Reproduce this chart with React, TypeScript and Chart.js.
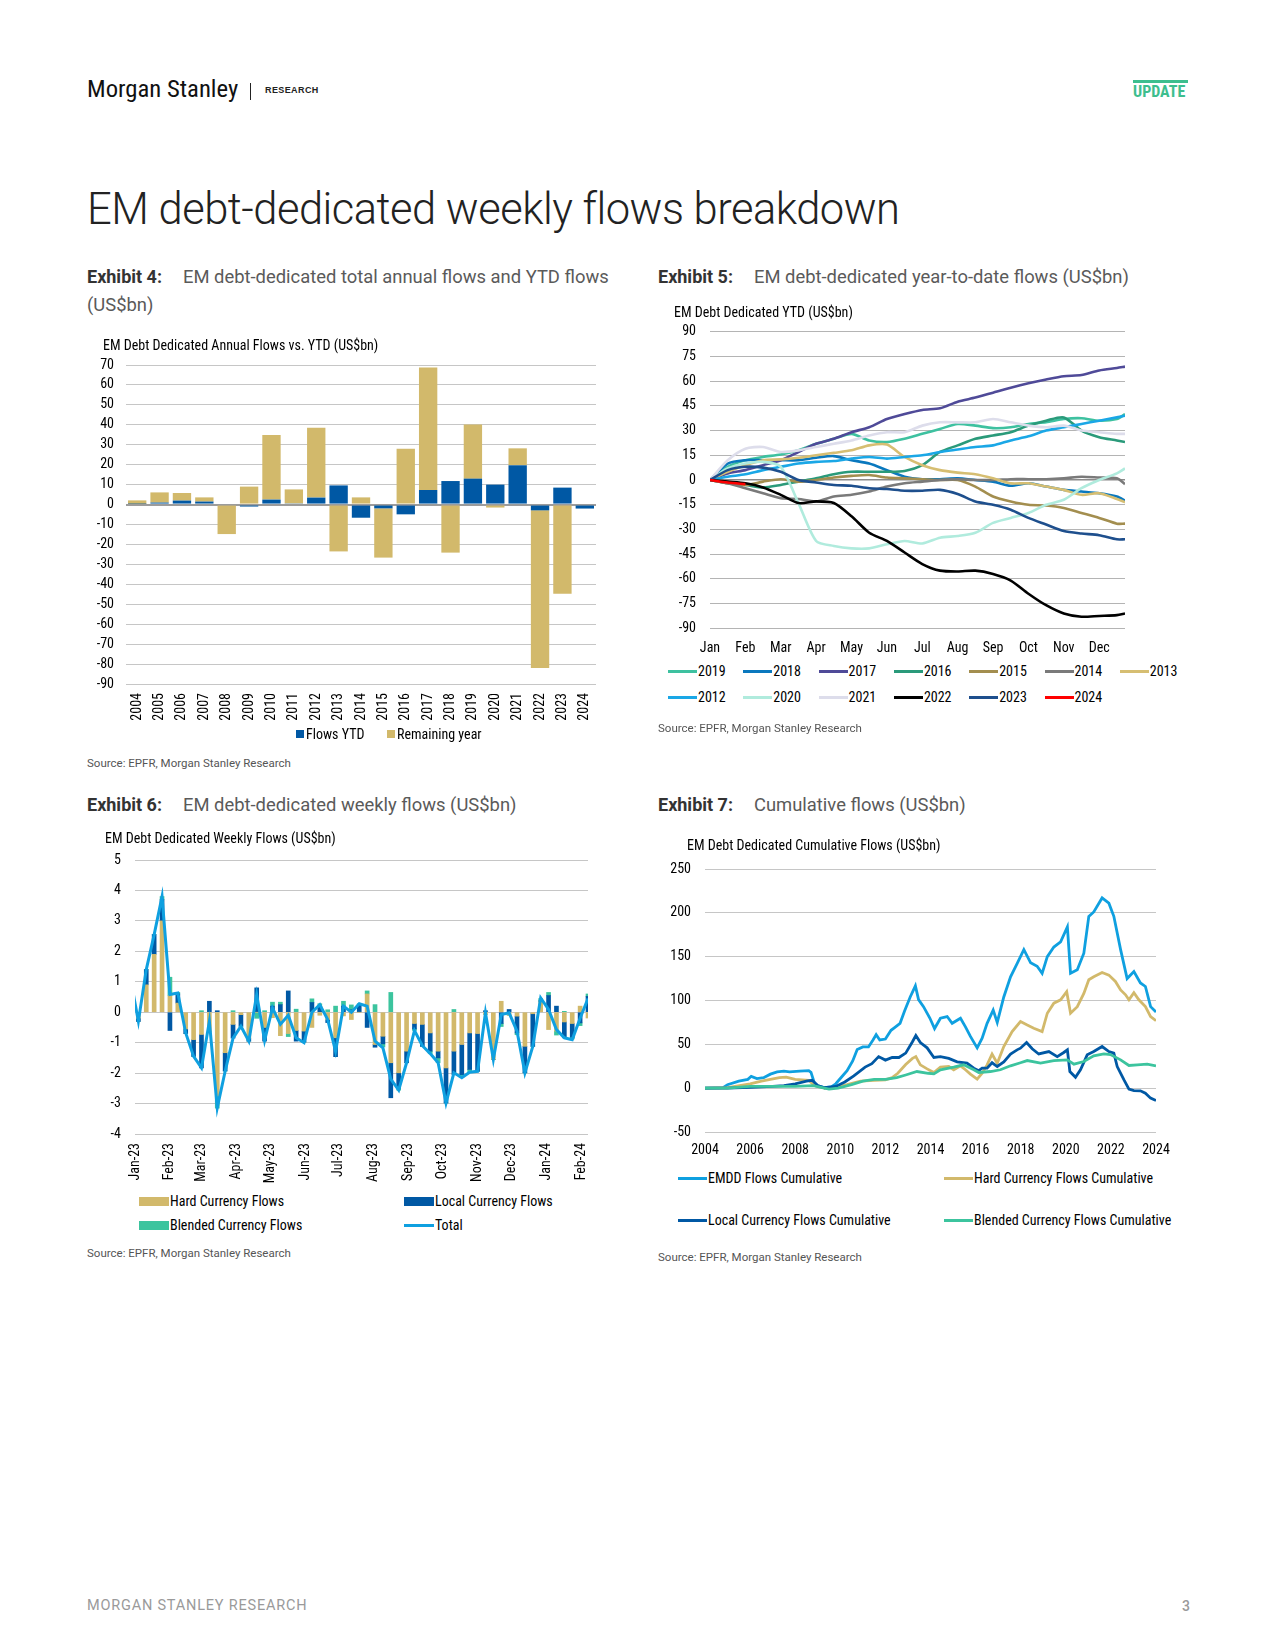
import React, { useEffect, useRef } from "react";
import { Chart, registerables } from "chart.js";
Chart.register(...registerables);

const NARROW = '"Liberation Sans Narrow", "Arial Narrow", "Roboto Condensed", Roboto, sans-serif';
const SANS = 'Roboto, "Liberation Sans", sans-serif';

const GOLD = "#D2B96B";
const BLUE = "#0058A4";
const TEAL = "#3CC49E";
const SKY = "#0FA0E0";
const GRID = "#C6C6C6";
const ZERO = "#9C9C9C";

// ---------------- Exhibit 4 ----------------
const annualYears = ["2004", "2005", "2006", "2007", "2008", "2009", "2010", "2011", "2012", "2013", "2014", "2015", "2016", "2017", "2018", "2019", "2020", "2021", "2022", "2023", "2024"];
const flowsYTD = [0.3, 1, 2, 1.5, 0, -1, 2.5, 0.6, 3.5, 9.6, -6.6, -1.9, -4.9, 7.3, 11.8, 13, 10, 19.7, -2.9, 8.5, -2];
const remainingYear = [1.8, 5.1, 3.8, 2.1, -14.8, 9, 32.4, 7, 35, -23.5, 3.6, -24.7, 28, 61.5, -24.1, 27.1, -1.5, 8.5, -79.1, -44.7, 0];
const annualTicks = { min: -90, max: 70, step: 10 };

// ---------------- Exhibit 5 ----------------
const ytdMonthLabels = ["Jan", "Feb", "Mar", "Apr", "May", "Jun", "Jul", "Aug", "Sep", "Oct", "Nov", "Dec"];
const ytdMonthTicks = [0, 1, 2, 3, 4, 5, 6, 7, 8, 9, 10, 11];
const ytdX = [0, 0.5, 1, 1.5, 2, 2.5, 3, 3.5, 4, 4.5, 5, 5.5, 6, 6.5, 7, 7.5, 8, 8.5, 9, 9.5, 10, 10.5, 11, 11.5, 11.73];
const ytdNames = ["2019", "2018", "2017", "2016", "2015", "2014", "2013", "2012", "2020", "2021", "2022", "2023", "2024"];
const ytdColors = ["#3EC1A0", "#0A78BE", "#4F4A98", "#2A9A7A", "#A38E4F", "#7A7A7A", "#D6BE72", "#1AA7E6", "#B0EBDD", "#DDDDEB", "#000000", "#1E4F8D", "#FF0000"];
const ytd2019 = [0, 8, 12, 14, 15.5, 18, 22, 25, 28, 24, 23, 25, 28, 31, 34, 33, 31.5, 32, 34, 35, 37, 37.5, 36, 37, 40];
const ytd2018 = [0, 10, 12, 12, 12, 12, 13.5, 14.5, 12, 10, 6, 2, 0.5, 0.5, 1, 0, -1, -3.5, -2, -4, -6, -7, -8, -10, -12.5];
const ytd2017 = [0, 4, 6, 9, 12, 17, 22, 25, 29, 32, 37, 40, 42.5, 43.5, 47.5, 50, 53, 56, 58.7, 61, 63, 63.7, 66.5, 68, 68.8];
const ytd2016 = [0, -2, -3, -4.5, -3, -1, 1, 3.5, 5, 5, 5, 5.5, 9, 17, 21, 25, 27, 29, 33, 36, 38, 30, 26, 24, 23];
const ytd2015 = [0, -2, -3, -1, 0.5, -1, 0, 1.5, 2.5, 3, 1.5, 1, 0.5, 0, 0, -4, -10, -13, -15, -15.5, -17, -20, -23, -26.5, -26.5];
const ytd2014 = [0, -2, -5, -8, -11, -11.5, -13, -10, -9, -7, -4, -2, -1, 0, 0.5, 0, 0, 0.5, 0.5, 0.5, 1, 2, 1.5, 1, -2.5];
const ytd2013 = [0, 5, 9, 12, 12.5, 13.5, 15, 16.5, 18, 21, 21.5, 14, 9, 6, 4.5, 3.5, 1, -2, -2, -4, -6, -9, -8, -11.5, -13.5];
const ytd2012 = [0, 2, 3.5, 6, 8, 10, 11, 11.5, 13, 14, 13, 14, 15, 17, 18.5, 20, 21, 24, 26.5, 30, 32, 34, 36, 38, 39];
const ytd2020 = [0, 7, 10, 11, 8, -14, -37, -40, -41.5, -41.5, -39, -37, -38.5, -35, -34, -32, -26, -23, -20, -15, -12, -5, 0, 4, 7];
const ytd2021 = [0, 12, 19, 20, 17, 18, 20, 22, 24, 27, 29, 29, 33, 35, 35, 35, 37, 35, 33, 32, 33, 30, 29, 28, 28];
const ytd2022 = [0, -1, -2, -4.5, -9, -14, -13, -14, -22, -32, -37, -44, -51, -55, -55.5, -55, -57, -61, -69, -76, -81, -83, -82.5, -82, -81];
const ytd2023 = [0, 6, 8, 7.5, 5, 0, -1.5, -3, -3.5, -5, -5.5, -6.5, -6.5, -6, -8.5, -13, -15, -18, -23, -27, -31, -32.5, -33.5, -36, -36];
const ytd2024 = [0, -1.5, -2.5];
const ytdSeries = [ytd2019, ytd2018, ytd2017, ytd2016, ytd2015, ytd2014, ytd2013, ytd2012, ytd2020, ytd2021, ytd2022, ytd2023, ytd2024];

// ---------------- Exhibit 6 ----------------
// weekly observations, first week ending 2022-12-28
const weekFirstDate = "2022-12-28";
const axisStartDate = "2023-01-01";
const weeklyHard = [null, -0.2, 0.9, 1.9, 3.0, 0.55, 0.3, -0.55, -0.9, -0.73, -0.65, -2.75, -1.33, -0.4, -0.08, -0.85, 0.0, -0.5, -0.18, -0.77, -0.7, -0.6, -0.62, -0.5, -0.1, -0.24, -0.84, -0.12, -0.24, 0.0, 0.6, -1.06, -0.79, -1.66, -1.99, -1.28, -0.37, -0.4, -0.68, -1.28, -1.83, -1.28, -1.06, -0.68, -0.7, -0.07, -1.55, 0.36, -0.1, -0.13, -1.12, -0.05, 0.35, -0.57, -0.62, -0.32, -0.37, 0.2, -0.19];
const weeklyLocal = [null, -0.1, 0.5, 0.65, 0.7, -0.6, 0.3, -0.15, -0.55, -1.1, 0.36, 0.05, -0.6, -0.45, -0.38, -0.1, 0.8, -0.45, 0.2, 0.25, 0.7, -0.35, -0.36, 0.32, 0.18, -0.1, -0.62, 0.2, 0.08, 0.25, -0.5, -0.09, -0.25, -1.15, -0.5, -0.38, -0.18, -0.72, -0.6, -0.22, -1.15, -0.77, -0.99, -1.2, -1.24, 0.05, 0.0, -0.37, 0.09, -0.55, -0.87, -1.07, 0.02, 0.55, 0.2, -0.52, -0.45, -0.35, 0.52];
const weeklyBlended = [null, 0, 0, 0, 0.1, 0.6, 0.05, 0, 0, 0.05, 0, -0.4, 0, 0.05, 0, 0, -0.2, 0.05, 0.13, 0.08, -0.1, 0.1, 0, 0.12, 0.1, 0.08, 0.2, 0.16, 0.16, 0.03, 0.1, 0.25, -0.1, 0.65, -0.07, 0, -0.05, 0, -0.08, -0.16, 0, 0.09, -0.1, -0.1, 0, 0, 0, -0.1, 0, -0.06, 0, 0, 0.08, 0.1, -0.13, 0.03, -0.06, -0.09, 0.08];
const weeklyTotal = [1.1, -0.3, 1.4, 2.55, 3.8, 0.58, 0.63, -0.68, -1.45, -1.83, -0.3, -3.14, -1.94, -0.85, -0.46, -0.95, 0.58, -0.93, 0.14, -0.4, -0.1, -0.84, -1.0, 0.0, 0.25, -0.24, -1.28, 0.2, 0.0, 0.28, 0.2, -0.95, -1.17, -2.2, -2.56, -1.66, -0.6, -1.1, -1.36, -1.66, -2.98, -1.99, -2.15, -1.97, -1.94, -0.02, -1.55, -0.08, -0.02, -0.62, -1.99, -1.12, 0.47, 0.09, -0.57, -0.84, -0.9, -0.2, 0.45];
const weeklyMonthLabels = ["Jan-23", "Feb-23", "Mar-23", "Apr-23", "May-23", "Jun-23", "Jul-23", "Aug-23", "Sep-23", "Oct-23", "Nov-23", "Dec-23", "Jan-24", "Feb-24"];
const weeklyMonthStarts = ["2023-01-01", "2023-02-01", "2023-03-01", "2023-04-01", "2023-05-01", "2023-06-01", "2023-07-01", "2023-08-01", "2023-09-01", "2023-10-01", "2023-11-01", "2023-12-01", "2024-01-01", "2024-02-01"];
const weeklyAxisEnd = "2024-02-07";
const weeklyNames = ["Hard Currency Flows", "Local Currency Flows", "Blended Currency Flows", "Total"];

// ---------------- Exhibit 7 ----------------
const cumNames = ["EMDD Flows Cumulative", "Hard Currency Flows Cumulative", "Local Currency Flows Cumulative", "Blended Currency Flows Cumulative"];
const emddX = [2004.0, 2004.8, 2005.0, 2005.5, 2005.9, 2006.05, 2006.3, 2006.6, 2006.9, 2007.2, 2007.5, 2007.75, 2008.2, 2008.6, 2008.7, 2008.85, 2009.0, 2009.3, 2009.6, 2009.8, 2010.0, 2010.3, 2010.55, 2010.75, 2011.0, 2011.25, 2011.45, 2011.59, 2011.75, 2012.0, 2012.25, 2012.45, 2012.65, 2012.85, 2013.1, 2013.33, 2013.47, 2013.69, 2013.97, 2014.18, 2014.44, 2014.74, 2014.96, 2015.33, 2015.55, 2015.77, 2016.07, 2016.29, 2016.51, 2016.78, 2016.96, 2017.25, 2017.55, 2017.84, 2018.14, 2018.44, 2018.73, 2018.95, 2019.18, 2019.47, 2019.77, 2020.07, 2020.21, 2020.51, 2020.8, 2021.02, 2021.24, 2021.61, 2021.91, 2022.13, 2022.43, 2022.72, 2023.02, 2023.31, 2023.53, 2023.76, 2024.0];
const emddY = [0, 0.5, 4, 8, 10, 13.5, 11, 12, 16, 18.5, 19.5, 18.5, 19.5, 20, 18, 6, 2.5, 0.5, 1.5, 5, 11, 20, 31, 44, 47, 47, 55, 61, 55, 56, 66, 70, 74, 88, 104, 116.7, 101, 93, 80, 68, 79.8, 81.7, 74, 79.8, 70, 59, 46, 57, 74, 89, 75, 104, 127, 142, 158, 143, 139, 131, 150, 161, 167, 184, 131, 135, 154, 196, 201, 217, 211, 196, 158, 125, 133, 120, 116, 93, 87];
const hardX = [2004.0, 2005.0, 2006.0, 2006.5, 2007.3, 2007.6, 2008.0, 2008.6, 2008.85, 2009.3, 2009.8, 2010.3, 2010.9, 2011.5, 2012.0, 2012.3, 2012.55, 2012.9, 2013.2, 2013.35, 2013.55, 2013.85, 2014.15, 2014.44, 2014.81, 2015.03, 2015.33, 2015.55, 2015.77, 2016.07, 2016.29, 2016.51, 2016.73, 2016.96, 2017.25, 2017.62, 2017.99, 2018.29, 2018.58, 2018.95, 2019.18, 2019.47, 2019.77, 2020.04, 2020.21, 2020.51, 2020.8, 2021.02, 2021.24, 2021.61, 2021.91, 2022.2, 2022.43, 2022.65, 2022.8, 2023.02, 2023.24, 2023.53, 2023.76, 2024.0];
const hardY = [0, 0.5, 5, 8, 12, 12.5, 10, 9, 3, 0, 1, 4, 8, 9, 9.5, 12, 17, 27, 34, 36, 26.6, 22, 17.9, 24, 24.7, 21, 25.5, 21, 16, 10.3, 17, 26.6, 39, 28.5, 47.5, 64.6, 76, 72, 68.4, 64.6, 85.5, 97, 100.8, 110, 85.5, 93, 108, 123.6, 127, 132, 129, 121.7, 112, 106.5, 100.8, 109, 100.8, 93, 81.7, 77];
const localX = [2004.0, 2005.0, 2006.0, 2007.0, 2007.5, 2008.0, 2008.5, 2008.75, 2009.0, 2009.3, 2009.8, 2010.2, 2010.6, 2011.1, 2011.4, 2011.7, 2012.0, 2012.3, 2012.6, 2012.9, 2013.2, 2013.35, 2013.55, 2013.85, 2014.15, 2014.44, 2014.81, 2015.18, 2015.62, 2015.92, 2016.14, 2016.29, 2016.51, 2016.73, 2016.96, 2017.25, 2017.55, 2017.84, 2017.99, 2018.26, 2018.51, 2018.8, 2019.25, 2019.62, 2019.91, 2020.07, 2020.18, 2020.43, 2020.65, 2020.95, 2021.24, 2021.61, 2021.91, 2022.13, 2022.28, 2022.58, 2022.8, 2023.02, 2023.31, 2023.53, 2023.76, 2024.0];
const localY = [0, 0, 1, 2, 3, 5, 8, 9, 3, 0.5, 2, 7, 14, 24, 28, 36, 32, 35, 35, 40, 53, 60, 52, 46, 35, 36, 34, 30, 28.5, 22.8, 20, 22.8, 22.8, 29, 24.7, 30, 39, 43.7, 45.6, 52, 44.9, 39, 41.8, 36, 40.7, 43.7, 19, 12.5, 21, 38, 41.8, 47.5, 41.8, 40, 24.7, 9.5, -1, -2.7, -3, -5.7, -11.4, -14];
const blendX = [2004.0, 2005.0, 2006.0, 2008.0, 2008.8, 2009.3, 2009.5, 2009.9, 2010.5, 2011.0, 2011.5, 2012.0, 2012.5, 2012.9, 2013.4, 2013.9, 2014.15, 2014.44, 2015.03, 2015.47, 2015.92, 2016.14, 2016.66, 2017.1, 2017.55, 2017.99, 2018.29, 2018.88, 2019.47, 2020.07, 2020.36, 2020.8, 2021.24, 2021.69, 2021.98, 2022.43, 2022.8, 2023.17, 2023.61, 2024.0];
const blendY = [0, 0, 2, 2, 3, 0, -1, 0, 4, 8, 10, 10, 12, 15, 19, 17, 16.3, 21, 24, 26.6, 21, 17.9, 19, 21, 25.5, 29, 31.5, 28.5, 31.5, 32.3, 27.4, 30.4, 36.9, 39.2, 38.4, 32.3, 25.9, 26.6, 27.4, 25.5];
const cumColors = [SKY, GOLD, BLUE, TEAL];

// ---------------- helpers ----------------
const dayOf = (iso: string) => Math.round((Date.parse(iso) - Date.parse(axisStartDate)) / 86400000);
const weekDays = weeklyTotal.map((_, k) => dayOf(weekFirstDate) + 7 * k);
const toXY = (xs: number[], ys: (number | null)[]) => ys.map((y, i) => ({ x: xs[i], y }));

function gridColor(ctx: any) {
  return ctx.tick && ctx.tick.value === 0 ? ZERO : GRID;
}

type Geo = { left: number; top: number; width: number; height: number };
type Area = { l: number; t: number; r: number; b: number };
type Fit = { xH: number; yW: number };

// Creates the chart, then nudges layout padding / axis sizes so that the
// plot area lands where the reference has it.
function ChartBox({ geo, area, make }: { geo: Geo; area: Area; make: (fit: Fit) => any }) {
  const ref = useRef<HTMLCanvasElement>(null);
  useEffect(() => {
    const fit: Fit = { xH: 40, yW: 50 };
    const want = { l: area.l - geo.left, t: area.t - geo.top, r: area.r - geo.left, b: area.b - geo.top };
    let pad = { left: 0, top: want.t, right: geo.width - want.r, bottom: 0 };
    const cfg = make(fit);
    cfg.options.layout = { padding: { ...pad } };
    const chart = new Chart(ref.current as HTMLCanvasElement, cfg);
    for (let k = 0; k < 6; k++) {
      const ca = chart.chartArea;
      const dT = want.t - ca.top;
      const dB = want.b - ca.bottom;
      const dL = want.l - ca.left;
      const dR = want.r - ca.right;
      if (Math.abs(dT) < 0.25 && Math.abs(dB) < 0.25 && Math.abs(dL) < 0.25 && Math.abs(dR) < 0.25) break;
      pad = { ...pad, top: Math.max(0, pad.top + dT), right: Math.max(0, pad.right - dR) };
      fit.xH -= dB;
      fit.yW += dL;
      (chart.config as any).options.layout = { padding: { ...pad } };
      chart.update();
    }
    return () => chart.destroy();
  }, []);
  return (
    <canvas
      ref={ref}
      width={geo.width}
      height={geo.height}
      style={{ position: "absolute", left: geo.left, top: geo.top, width: geo.width, height: geo.height }}
    />
  );
}

function T({ x, y, size, children, color = "#000", weight = 400, family = SANS, ls = 0 }: any) {
  return (
    <div
      style={{
        position: "absolute",
        left: x,
        top: y - size * 0.6,
        fontSize: size,
        lineHeight: `${size * 1.2}px`,
        color,
        fontWeight: weight,
        fontFamily: family,
        letterSpacing: ls,
        whiteSpace: "nowrap",
      }}
    >
      {children}
    </div>
  );
}

function Swatch({ x, y, w, h, color }: any) {
  return <div style={{ position: "absolute", left: x, top: y - h / 2, width: w, height: h, background: color }} />;
}

const baseOpts = () => ({
  responsive: false,
  animation: false,
  devicePixelRatio: 1,
  plugins: { legend: { display: false }, tooltip: { enabled: false }, title: { display: false } },
});

const tickFont = { family: NARROW, size: 14 };
const noGridX = { display: false, drawTicks: false };
// y-axis label gap is produced by an invisible tick mark, so it does not
// inflate the plot's top padding
const yGrid = (gap: number, extra: any = {}) => ({ drawTicks: true, tickLength: gap, tickColor: "rgba(0,0,0,0)", color: GRID, ...extra });
const yTicks = (step: number) => ({ stepSize: step, autoSkip: false, font: tickFont, color: "#000", padding: 0 });

// ---------------- chart configs ----------------
const geo4: Geo = { left: 80, top: 340, width: 550, height: 395 };
const area4: Area = { l: 126, t: 365, r: 596, b: 684 };
const make4 = (fit: Fit) => ({
  type: "bar",
  data: {
    labels: annualYears,
    datasets: [
      { label: "Flows YTD", data: flowsYTD, backgroundColor: BLUE, stack: "s", barPercentage: 0.82, categoryPercentage: 1 },
      { label: "Remaining year", data: remainingYear, backgroundColor: GOLD, stack: "s", barPercentage: 0.82, categoryPercentage: 1 },
    ],
  },
  options: {
    ...baseOpts(),
    scales: {
      x: {
        stacked: true,
        grid: noGridX,
        border: { display: false },
        ticks: { font: tickFont, color: "#000", minRotation: 90, maxRotation: 90, autoSkip: false, padding: 9 },
        afterFit: (s: any) => { s.height = fit.xH; },
      },
      y: {
        stacked: true,
        min: annualTicks.min,
        max: annualTicks.max,
        grid: yGrid(12, { color: gridColor, lineWidth: (c: any) => (c.tick && c.tick.value === 0 ? 2 : 1) }),
        border: { display: false },
        ticks: yTicks(annualTicks.step),
        afterFit: (s: any) => { s.width = fit.yW; },
      },
    },
  },
});

const geo5: Geo = { left: 650, top: 306, width: 500, height: 357 };
const area5: Area = { l: 710, t: 331.7, r: 1125, b: 628.3 };
const make5 = (fit: Fit) => ({
  type: "line",
  data: {
    datasets: ytdSeries.map((ys, i) => ({
      label: ytdNames[i],
      data: toXY(ytdX, ys),
      borderColor: ytdColors[i],
      backgroundColor: ytdColors[i],
      borderWidth: 2.6,
      pointRadius: 0,
      tension: 0.25,
      order: -i,
    })),
  },
  options: {
    ...baseOpts(),
    scales: {
      x: {
        type: "linear",
        min: 0,
        max: 11.73,
        grid: noGridX,
        border: { display: false },
        afterBuildTicks: (s: any) => { s.ticks = ytdMonthTicks.map((v) => ({ value: v })); },
        ticks: { font: tickFont, color: "#000", autoSkip: false, maxRotation: 0, padding: 12, callback: (_v: any, i: number) => ytdMonthLabels[i] },
        afterFit: (s: any) => { s.height = fit.xH; },
      },
      y: {
        min: -90,
        max: 90,
        grid: yGrid(14, { color: (c: any) => (c.tick && c.tick.value === 0 ? "#8A8A8A" : "#B4B4B4"), lineWidth: (c: any) => (c.tick && c.tick.value === 0 ? 1.6 : 1) }),
        border: { display: false },
        ticks: yTicks(15),
        afterFit: (s: any) => { s.width = fit.yW; },
      },
    },
  },
});

const geo6: Geo = { left: 80, top: 835, width: 540, height: 355 };
const area6: Area = { l: 135, t: 860, r: 588, b: 1134 };
const make6 = (fit: Fit) => {
  const monthDays = weeklyMonthStarts.map(dayOf);
  return {
    type: "bar",
    data: {
      datasets: [
        { type: "line", label: weeklyNames[3], data: toXY(weekDays, weeklyTotal), borderColor: SKY, backgroundColor: SKY, borderWidth: 3, pointRadius: 0, tension: 0, stack: "t", order: 0 },
        { label: weeklyNames[0], data: toXY(weekDays, weeklyHard), backgroundColor: GOLD, stack: "f", barThickness: 4, order: 1 },
        { label: weeklyNames[1], data: toXY(weekDays, weeklyLocal), backgroundColor: BLUE, stack: "f", barThickness: 4, order: 1 },
        { label: weeklyNames[2], data: toXY(weekDays, weeklyBlended), backgroundColor: TEAL, stack: "f", barThickness: 4, order: 1 },
      ],
    },
    options: {
      ...baseOpts(),
      scales: {
        x: {
          type: "linear",
          stacked: true,
          offset: false,
          min: 0,
          max: dayOf(weeklyAxisEnd),
          grid: { ...noGridX, offset: false },
          border: { display: false },
          afterBuildTicks: (s: any) => { s.ticks = monthDays.map((v) => ({ value: v })); },
          ticks: { font: tickFont, color: "#000", autoSkip: false, minRotation: 90, maxRotation: 90, padding: 9, callback: (_v: any, i: number) => weeklyMonthLabels[i] },
          afterFit: (s: any) => { s.height = fit.xH; },
        },
        y: {
          stacked: true,
          min: -4,
          max: 5,
          grid: yGrid(14),
          border: { display: false },
          ticks: yTicks(1),
          afterFit: (s: any) => { s.width = fit.yW; },
        },
      },
    },
  };
};

const geo7: Geo = { left: 650, top: 845, width: 540, height: 320 };
const area7: Area = { l: 705, t: 869, r: 1156, b: 1132 };
const make7 = (fit: Fit) => {
  const xs = [emddX, hardX, localX, blendX];
  const ys = [emddY, hardY, localY, blendY];
  return {
    type: "line",
    data: {
      datasets: cumNames.map((n, i) => ({
        label: n,
        data: toXY(xs[i], ys[i]),
        borderColor: cumColors[i],
        backgroundColor: cumColors[i],
        borderWidth: 2.8,
        pointRadius: 0,
        tension: 0,
        order: -i,
      })),
    },
    options: {
      ...baseOpts(),
      scales: {
        x: {
          type: "linear",
          min: 2004,
          max: 2024,
          grid: noGridX,
          border: { display: false },
          ticks: { stepSize: 2, font: tickFont, color: "#000", autoSkip: false, maxRotation: 0, padding: 10, callback: (v: any) => String(v) },
          afterFit: (s: any) => { s.height = fit.xH; },
        },
        y: {
          min: -50,
          max: 250,
          grid: yGrid(14),
          border: { display: false },
          ticks: yTicks(50),
          afterFit: (s: any) => { s.width = fit.yW; },
        },
      },
    },
  };
};

export default function App() {
  const src = "Source: EPFR, Morgan Stanley Research";
  const sub = { size: 18.4, weight: 400, color: "#5A5A5A" };
  return (
    <div style={{ position: "absolute", left: 0, top: 0, width: 1275, height: 1650, background: "#fff", overflow: "hidden" }}>
      {/* header */}
      <T x={87} y={89} size={24.7} family={NARROW} color="#111">Morgan Stanley</T>
      <div style={{ position: "absolute", left: 250, top: 83, width: 1, height: 17, background: "#222" }} />
      <T x={265} y={90.5} size={9} weight={700} family='"Liberation Sans", Arial, sans-serif' ls={0.4} color="#222">RESEARCH</T>
      <div style={{ position: "absolute", left: 1133, top: 80, width: 55, height: 3, background: "#3DBE8E" }} />
      <T x={1133} y={91.5} size={16} weight={700} family={NARROW} color="#3DBE8E">UPDATE</T>

      <T x={87} y={210} size={43.5} weight={300} color="#222" ls={-0.5}>EM debt-dedicated weekly flows breakdown</T>

      {/* exhibit headings */}
      <T x={87} y={277} size={18} weight={700} color="#333">Exhibit 4:</T>
      <T x={183} y={277} {...sub}>EM debt-dedicated total annual flows and YTD flows</T>
      <T x={87} y={305} {...sub}>(US$bn)</T>
      <T x={658} y={277} size={18} weight={700} color="#333">Exhibit 5:</T>
      <T x={754} y={277} {...sub}>EM debt-dedicated year-to-date flows (US$bn)</T>
      <T x={87} y={805} size={18} weight={700} color="#333">Exhibit 6:</T>
      <T x={183} y={805} {...sub}>EM debt-dedicated weekly flows (US$bn)</T>
      <T x={658} y={805} size={18} weight={700} color="#333">Exhibit 7:</T>
      <T x={754} y={805} {...sub}>Cumulative flows (US$bn)</T>

      {/* charts */}
      <ChartBox geo={geo4} area={area4} make={make4} />
      <ChartBox geo={geo5} area={area5} make={make5} />
      <ChartBox geo={geo6} area={area6} make={make6} />
      <ChartBox geo={geo7} area={area7} make={make7} />

      {/* chart titles */}
      <T x={103} y={345} size={14} family={NARROW}>EM Debt Dedicated Annual Flows vs. YTD (US$bn)</T>
      <T x={674} y={312} size={14} family={NARROW}>EM Debt Dedicated YTD (US$bn)</T>
      <T x={105} y={838} size={14} family={NARROW}>EM Debt Dedicated Weekly Flows (US$bn)</T>
      <T x={687} y={845} size={14} family={NARROW}>EM Debt Dedicated Cumulative Flows (US$bn)</T>

      {/* legend 4 */}
      <Swatch x={296} y={734} w={8} h={8} color={BLUE} />
      <T x={306} y={734} size={14} family={NARROW}>Flows YTD</T>
      <Swatch x={387} y={734} w={8} h={8} color={GOLD} />
      <T x={397} y={734} size={14} family={NARROW}>Remaining year</T>

      {/* legend 5 */}
      {ytdNames.map((n, i) => {
        const row = i < 7 ? 0 : 1;
        const k = row === 0 ? i : i - 7;
        const x0 = 668 + 75.3 * k;
        const cy = row === 0 ? 671 : 697;
        return (
          <React.Fragment key={n}>
            <Swatch x={x0} y={cy} w={29} h={3} color={ytdColors[i]} />
            <T x={x0 + 30} y={cy} size={14} family={NARROW}>{n}</T>
          </React.Fragment>
        );
      })}

      {/* legend 6 */}
      <Swatch x={139} y={1201} w={30} h={9} color={GOLD} />
      <T x={170} y={1201} size={14} family={NARROW}>{weeklyNames[0]}</T>
      <Swatch x={404} y={1201} w={30} h={9} color={BLUE} />
      <T x={435} y={1201} size={14} family={NARROW}>{weeklyNames[1]}</T>
      <Swatch x={139} y={1225} w={30} h={9} color={TEAL} />
      <T x={170} y={1225} size={14} family={NARROW}>{weeklyNames[2]}</T>
      <Swatch x={404} y={1225} w={30} h={3} color={SKY} />
      <T x={435} y={1225} size={14} family={NARROW}>{weeklyNames[3]}</T>

      {/* legend 7 */}
      {cumNames.map((n, i) => {
        const col = i % 2;
        const cy = i < 2 ? 1178 : 1220;
        const x0 = col === 0 ? 678 : 944;
        return (
          <React.Fragment key={n}>
            <Swatch x={x0} y={cy} w={29} h={3} color={cumColors[i]} />
            <T x={x0 + 30} y={cy} size={14} family={NARROW}>{n}</T>
          </React.Fragment>
        );
      })}

      {/* sources */}
      <T x={87} y={764} size={11.5} color="#555">{src}</T>
      <T x={658} y={729} size={11.5} color="#555">{src}</T>
      <T x={87} y={1254} size={11.5} color="#555">{src}</T>
      <T x={658} y={1258} size={11.5} color="#555">{src}</T>

      {/* footer */}
      <T x={87} y={1606} size={14.5} color="#9A9A9A" ls={0.8}>MORGAN STANLEY RESEARCH</T>
      <T x={1182} y={1606} size={14} color="#9A9A9A" weight={500}>3</T>
    </div>
  );
}
